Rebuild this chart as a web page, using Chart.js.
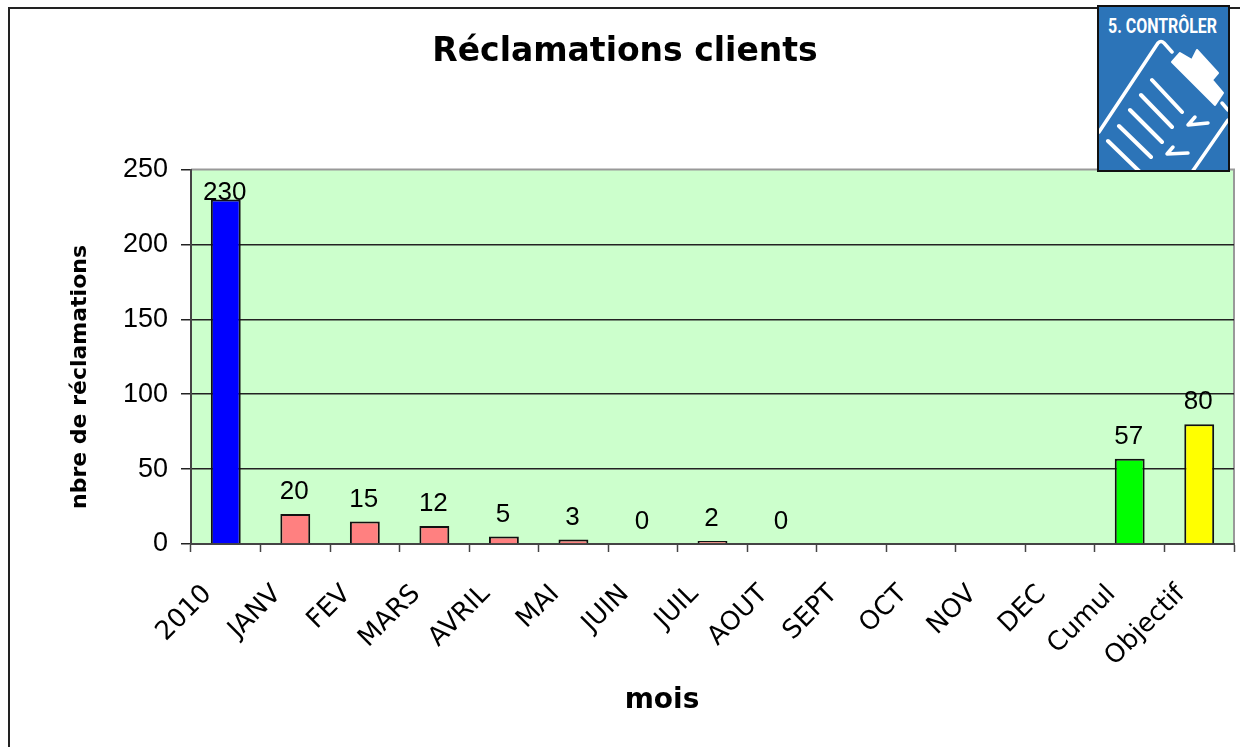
<!DOCTYPE html>
<html lang="fr">
<head>
<meta charset="utf-8">
<title>Réclamations clients</title>
<script src="https://cdn.jsdelivr.net/npm/chart.js@4"></script>
<style>
  html, body { margin: 0; padding: 0; background: #fff; overflow: hidden; }
  #wrap { position: relative; width: 1240px; height: 747px; }
  #frame { position: absolute; left: 8px; top: 7px; right: 0; bottom: -4px; border-left: 2px solid #222; border-top: 2px solid #222; }
  #chart { position: absolute; left: 0; top: 0; }
  #badge { position: absolute; left: 1097px; top: 5px; }
</style>
</head>
<body>
<div id="wrap">
  <div id="frame"></div>
  <canvas id="chart" width="1240" height="747"></canvas>
  <svg id="badge" width="133" height="167" viewBox="0 0 133 167">
    <defs><clipPath id="c"><rect x="2" y="2" width="129" height="163"/></clipPath></defs>
    <rect x="1" y="1" width="131" height="165" fill="#2c74b8" stroke="#111" stroke-width="2"/>
    <text x="11" y="28" fill="#fff" font-family="Roboto, 'Liberation Sans', sans-serif" font-weight="700" font-size="21" textLength="109" lengthAdjust="spacingAndGlyphs">5. CONTRÔLER</text>
    <g clip-path="url(#c)" fill="none" stroke="#fff" stroke-linecap="round" stroke-linejoin="round">
      <path d="M2 127 L61 38 Q64 35 67 38 L75 47" stroke-width="3.5"/>
      <path d="M125 98 L131 105" stroke-width="3.5"/>
      <path d="M131 115 L95 167" stroke-width="3.5"/>
      <path d="M55 75 L85 107 M44 90 L75 122 M33 105 L65 137 M22 121 L54 152 M11 136 L43 167" stroke-width="4"/>
      <path d="M98 112 L91 120 L111 118" stroke-width="3.5"/>
      <path d="M76 142 L70 149 L91 148" stroke-width="3.5"/>
      <path d="M75 57 L83 48 L95 55 L100 45 L121 68 L115 75 L126 88 L118 100 Z" fill="#fff" stroke-width="2"/>
    </g>
  </svg>
</div>
<script>
const categories = ["2010", "JANV", "FEV", "MARS", "AVRIL", "MAI", "JUIN", "JUIL", "AOUT", "SEPT", "OCT", "NOV", "DEC", "Cumul", "Objectif"];
const reclamations = [230, 20, 15, 12, 5, 3, 0, 2, 0, null, null, null, null, 57, 80];
const barColors = ["#0000ff", "#ff8080", "#ff8080", "#ff8080", "#ff8080", "#ff8080", "#ff8080", "#ff8080", "#ff8080", "#ff8080", "#ff8080", "#ff8080", "#ff8080", "#00ff00", "#ffff00"];
const yTicks = [0, 50, 100, 150, 200, 250];
const yAxisTitle = "nbre de réclamations";
const xAxisTitle = "mois";

// fond vert de la zone de tracé
const plotBackground = {
  id: "plotBackground",
  beforeDraw(chart) {
    const { ctx, chartArea: a } = chart;
    ctx.save();
    ctx.fillStyle = "#ccffcc";
    ctx.fillRect(a.left, a.top, a.width, a.height);
    ctx.strokeStyle = "#999";
    ctx.lineWidth = 2;
    ctx.beginPath();
    ctx.moveTo(a.left, a.top);
    ctx.lineTo(a.right, a.top);
    ctx.lineTo(a.right, a.bottom);
    ctx.stroke();
    ctx.restore();
  },
};

// étiquettes de valeurs au-dessus des barres
const valueLabels = {
  id: "valueLabels",
  afterDatasetsDraw(chart) {
    const { ctx } = chart;
    const meta = chart.getDatasetMeta(0);
    ctx.save();
    ctx.font = "26px 'Liberation Sans'";
    ctx.fillStyle = "#000";
    ctx.textAlign = "center";
    ctx.textBaseline = "alphabetic";
    meta.data.forEach((bar, i) => {
      if (reclamations[i] === null) return;
      const gap = i === 0 ? 0 : 15; // le 230 touche le haut de sa barre
      ctx.fillText(String(reclamations[i]), bar.x - 1, bar.y - gap);
    });
    ctx.restore();
  },
};

// titres d'axes : décentrés par rapport à la zone de tracé dans l'original
const axisTitles = {
  id: "axisTitles",
  afterDraw(chart) {
    const { ctx, chartArea: a } = chart;
    ctx.save();
    ctx.fillStyle = "#000";
    ctx.textAlign = "center";
    ctx.textBaseline = "middle";
    ctx.font = "bold 28px 'DejaVu Sans'";
    ctx.fillText(xAxisTitle, a.left + 471, a.bottom + 157);
    ctx.translate(a.left - 111, a.bottom - 167);
    ctx.rotate(-Math.PI / 2);
    ctx.font = "bold 22px 'DejaVu Sans'";
    ctx.fillText(yAxisTitle, 0, 0);
    ctx.restore();
  },
};

const ctx = document.getElementById("chart").getContext("2d");
new Chart(ctx, {
  type: "bar",
  data: {
    labels: categories,
    datasets: [
      {
        data: reclamations,
        backgroundColor: barColors,
        borderColor: "#111",
        borderWidth: 2,
        barPercentage: 0.43,
        categoryPercentage: 1,
      },
    ],
  },
  options: {
    responsive: false,
    animation: false,
    layout: { padding: { left: 16, right: 6, top: 33, bottom: 30 } },
    plugins: {
      legend: { display: false },
      tooltip: { enabled: false },
      title: {
        display: true,
        text: "Réclamations clients",
        color: "#000",
        font: { family: "'DejaVu Sans'", size: 33, weight: "bold" },
        padding: { top: 0, bottom: 97 },
      },
    },
    scales: {
      x: {
        afterFit(scale) {
          scale.height = 173;
          scale.paddingLeft = 0;
          scale.paddingRight = 0;
        },
        grid: { drawOnChartArea: false, color: "#444", tickLength: 8, tickWidth: 1.5 },
        border: { color: "#444", width: 2 },
        ticks: {
          color: "#000",
          font: { family: "'DejaVu Sans'", size: 26 },
          minRotation: 45,
          maxRotation: 45,
          autoSkip: false,
          padding: 27,
          labelOffset: -18,
        },
      },
      y: {
        min: 0,
        max: 250,
        afterFit(scale) { scale.width = 175; },
        afterBuildTicks(scale) { scale.ticks = yTicks.map((v) => ({ value: v })); },
        grid: {
          color: (c) => (c.tick && c.tick.value === 250 ? "rgba(0,0,0,0)" : "#222"),
          tickColor: "#222",
          lineWidth: 1.5,
          tickLength: 10,
        },
        border: { color: "#444", width: 2 },
        ticks: {
          color: "#000",
          font: { family: "'Liberation Sans'", size: 27 },
          padding: 13,
        },
      },
    },
  },
  plugins: [plotBackground, valueLabels, axisTitles],
});
</script>
</body>
</html>
